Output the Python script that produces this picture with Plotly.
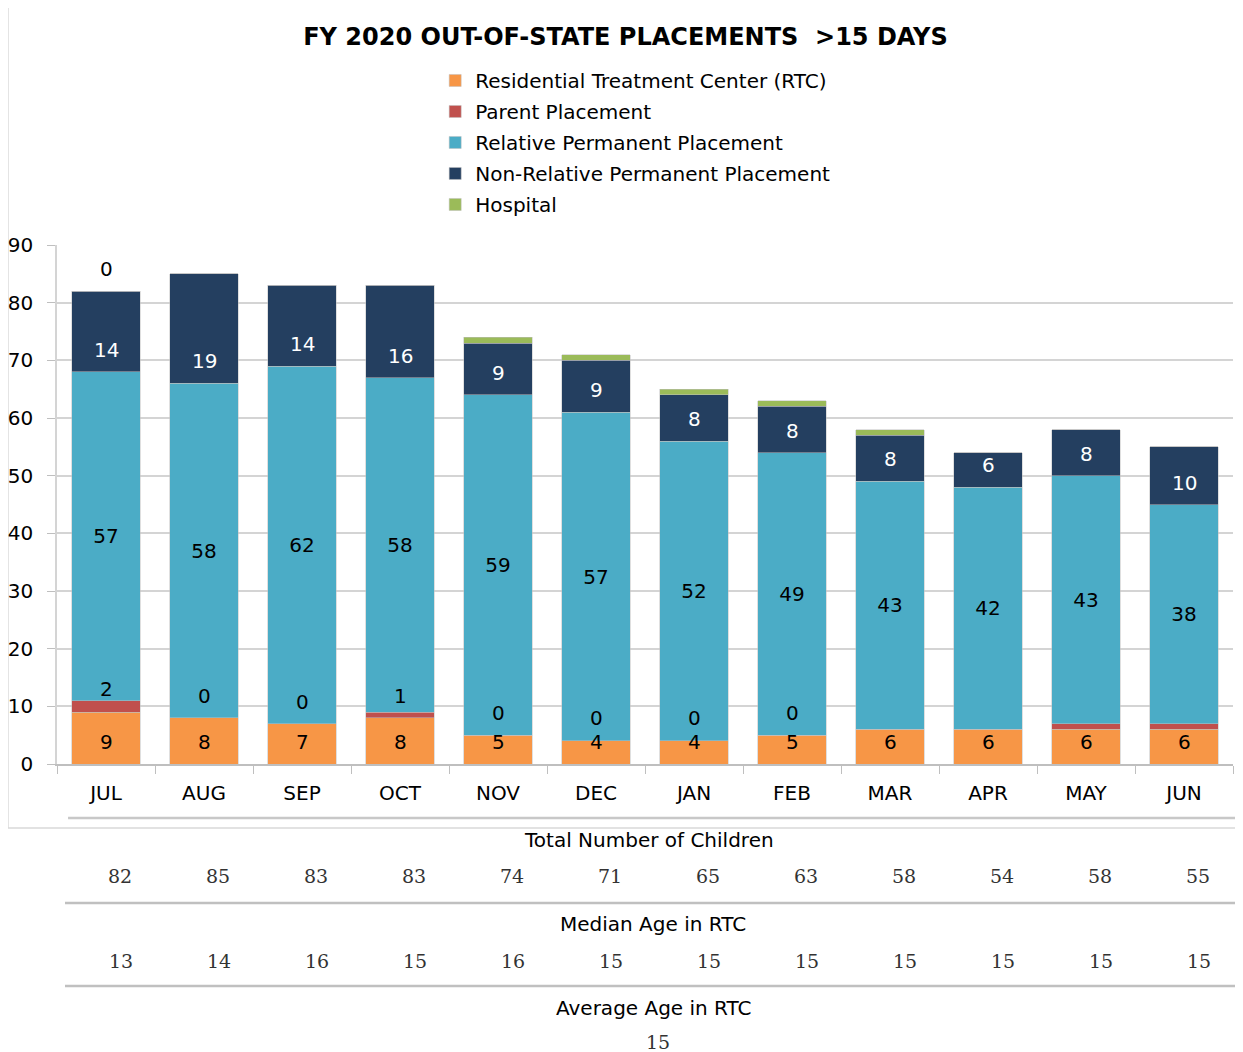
import plotly.graph_objects as go

months = ["JUL", "AUG", "SEP", "OCT", "NOV", "DEC", "JAN", "FEB", "MAR", "APR", "MAY", "JUN"]
rtc = [9, 8, 7, 8, 5, 4, 4, 5, 6, 6, 6, 6]
parent = [2, 0, 0, 1, 0, 0, 0, 0, 0, 0, 1, 1]
relative = [57, 58, 62, 58, 59, 57, 52, 49, 43, 42, 43, 38]
nonrelative = [14, 19, 14, 16, 9, 9, 8, 8, 8, 6, 8, 10]
hospital = [0, 0, 0, 0, 1, 1, 1, 1, 1, 0, 0, 0]
parent_label_shown = [True, True, True, True, True, True, True, True, False, False, False, False]
hospital_label_shown = [True] + [False] * 11
total_children = [82, 85, 83, 83, 74, 71, 65, 63, 58, 54, 58, 55]
median_age = [13, 14, 16, 15, 16, 15, 15, 15, 15, 15, 15, 15]
average_age = 15

# label offsets (style only, pixels)
parent_label_shift = [-2, 8, 8, 2, 8, 9, 9, 8, 8, 8, 8, 8]

C_RTC = "#F79646"
C_PAR = "#C0504D"
C_REL = "#4BACC6"
C_NON = "#243F60"
C_HOS = "#9BBB59"

SANS = "DejaVu Sans, sans-serif"
SERIF = "DejaVu Serif, Liberation Serif, serif"

fig = go.Figure()
series = [
    ("Residential Treatment Center (RTC)", rtc, C_RTC),
    ("Parent Placement", parent, C_PAR),
    ("Relative Permanent Placement", relative, C_REL),
    ("Non-Relative Permanent Placement", nonrelative, C_NON),
    ("Hospital", hospital, C_HOS),
]
for i, (name, vals, col) in enumerate(series):
    kw = {}
    if name == "Relative Permanent Placement":
        kw = dict(text=[str(v) for v in vals], textposition="inside",
                  insidetextanchor="middle", constraintext="none",
                  textfont=dict(family=SANS, size=20, color="black"))
    fig.add_trace(go.Bar(
        x=months, y=vals, name=name, marker=dict(color=col, line=dict(color="#bfbfbf", width=0.5)),
        legendgroup=str(i), hoverinfo="y+name", **kw))

annotations = []
for i, m in enumerate(months):
    annotations.append(dict(x=m, y=0, xref="x", yref="y", text=str(rtc[i]), showarrow=False,
                            yanchor="bottom", yshift=8, font=dict(family=SANS, size=20, color="black")))
    base_non = rtc[i] + parent[i] + relative[i]
    annotations.append(dict(x=m, y=base_non, xref="x", yref="y", text=str(nonrelative[i]), showarrow=False,
                            yanchor="bottom", yshift=8, font=dict(family=SANS, size=20, color="white")))
    if parent_label_shown[i]:
        annotations.append(dict(x=m, y=rtc[i] + parent[i], xref="x", yref="y", text=str(parent[i]),
                                showarrow=False, yanchor="bottom", yshift=parent_label_shift[i],
                                font=dict(family=SANS, size=20, color="black")))
    if hospital_label_shown[i]:
        annotations.append(dict(x=m, y=base_non + nonrelative[i] + hospital[i], xref="x", yref="y",
                                text=str(hospital[i]), showarrow=False, yanchor="bottom", yshift=8,
                                font=dict(family=SANS, size=20, color="black")))
    annotations.append(dict(x=m, y=-0.2158, xref="x", yref="paper", text=str(total_children[i]),
                            showarrow=False, xshift=14, yanchor="middle",
                            font=dict(family=SERIF, size=19, color="#333333")))
    annotations.append(dict(x=m, y=-0.3796, xref="x", yref="paper", text=str(median_age[i]),
                            showarrow=False, xshift=15, yanchor="middle",
                            font=dict(family=SERIF, size=19, color="#333333")))

for txt, yy, xx in [("Total Number of Children", -0.1464, 0.5036), ("Median Age in RTC", -0.3083, 0.507),
                    ("Average Age in RTC", -0.4701, 0.508)]:
    annotations.append(dict(x=xx, y=yy, xref="paper", yref="paper", text=txt, showarrow=False,
                            yanchor="middle", font=dict(family=SANS, size=20, color="black")))
annotations.append(dict(x=0.511, y=-0.5356, xref="paper", yref="paper", text=str(average_age),
                        showarrow=False, yanchor="middle", font=dict(family=SERIF, size=19, color="#333333")))

shapes = [
    dict(type="rect", xref="paper", yref="paper", x0=-0.0417, x1=1.0119, y0=-0.1233, y1=1.4624,
         line=dict(color="#d9d9d9", width=1.5), layer="below"),
    dict(type="line", xref="paper", yref="paper", x0=0.0094, x1=1.0119, y0=-0.104, y1=-0.104,
         line=dict(color="#c8c8c8", width=2.5)),
    dict(type="line", xref="paper", yref="paper", x0=0.0068, x1=1.0034, y0=-0.2678, y1=-0.2678,
         line=dict(color="#c0c0c0", width=2.5)),
    dict(type="line", xref="paper", yref="paper", x0=0.0068, x1=1.0034, y0=-0.4277, y1=-0.4277,
         line=dict(color="#c0c0c0", width=2.5)),
]

fig.update_layout(
    width=1235, height=1044,
    margin=dict(l=49, r=10, t=237, b=288, autoexpand=False),
    barmode="stack", bargap=0.3,
    paper_bgcolor="white", plot_bgcolor="white",
    title=dict(text="<b>FY 2020 OUT-OF-STATE PLACEMENTS  >15 DAYS</b>", x=0.5, xanchor="center",
               y=0.9722, yanchor="middle", font=dict(family=SANS, size=24, color="black")),
    legend=dict(x=0.3216, y=1.3546, xanchor="left", yanchor="top", traceorder="grouped",
                tracegroupgap=2, font=dict(family=SANS, size=20, color="black"),
                bgcolor="rgba(0,0,0,0)", itemwidth=30),
    xaxis=dict(showline=True, linecolor="#bfbfbf", linewidth=1.5, ticks="outside", tickson="boundaries",
               ticklen=8, tickcolor="#bfbfbf", ticklabelstandoff=10, automargin=False,
               tickfont=dict(family=SANS, size=20, color="black")),
    yaxis=dict(range=[0, 90], dtick=10, showgrid=True, gridcolor="#d4d4d4", gridwidth=2,
               showline=True, linecolor="#d4d4d4", linewidth=1.5, ticks="outside", ticklen=8,
               tickcolor="#bfbfbf", ticklabelstandoff=10, automargin=False,
               tickfont=dict(family=SANS, size=20, color="black"), zeroline=False),
    annotations=annotations, shapes=shapes,
)

fig.write_html("out.html")
